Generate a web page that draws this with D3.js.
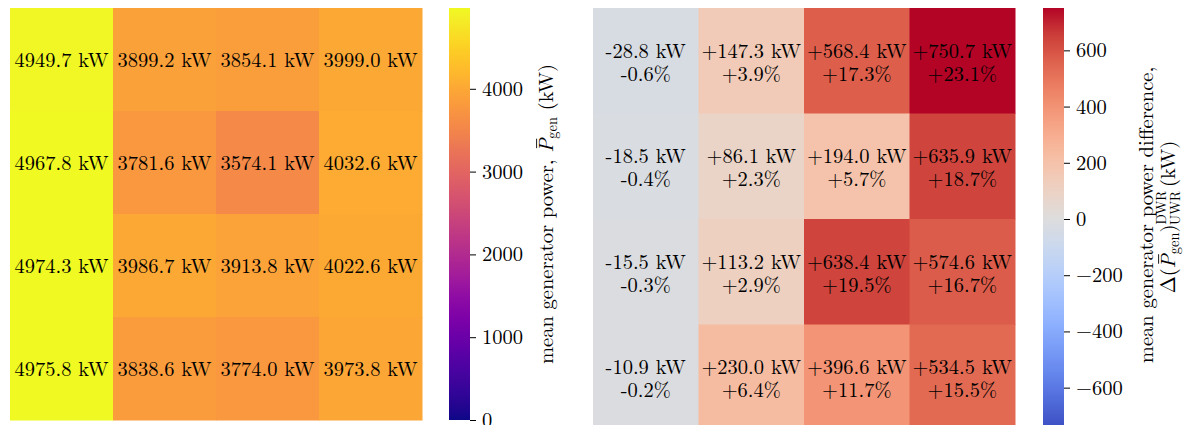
<!DOCTYPE html>
<html><head><meta charset="utf-8">
<script src="https://cdn.jsdelivr.net/npm/d3@7"></script>
<style>body{margin:0;background:#fff;}</style></head>
<body><svg id="c" width="1183" height="425"></svg>
<script>
const rows = [0,1,2,3];
const cols = [0,1,2,3];
const meanPower = [
  [4949.7, 3899.2, 3854.1, 3999.0],
  [4967.8, 3781.6, 3574.1, 4032.6],
  [4974.3, 3986.7, 3913.8, 4022.6],
  [4975.8, 3838.6, 3774.0, 3973.8]
];
const diffPower = [
  [-28.8, 147.3, 568.4, 750.7],
  [-18.5, 86.1, 194.0, 635.9],
  [-15.5, 113.2, 638.4, 574.6],
  [-10.9, 230.0, 396.6, 534.5]
];
const diffPct = [
  [-0.6, 3.9, 17.3, 23.1],
  [-0.4, 2.3, 5.7, 18.7],
  [-0.3, 2.9, 19.5, 16.7],
  [-0.2, 6.4, 11.7, 15.5]
];
const leftTicks = [0, 1000, 2000, 3000, 4000];
const rightTicks = [-600, -400, -200, 0, 200, 400, 600];

// matplotlib coolwarm control points (every 1/16)
const coolwarmStops = [
  [0.2298,0.2987,0.7537],[0.3039,0.4065,0.8450],[0.3830,0.5094,0.9174],[0.4667,0.6046,0.9682],
  [0.5530,0.6889,0.9954],[0.6392,0.7596,0.9982],[0.7222,0.8140,0.9766],[0.7987,0.8498,0.9317],
  [0.8654,0.8654,0.8654],[0.9241,0.8274,0.7745],[0.9589,0.7698,0.6780],[0.9700,0.6943,0.5794],
  [0.9580,0.6028,0.4818],[0.9239,0.4973,0.3880],[0.8692,0.3783,0.3003],[0.7956,0.2413,0.2205],
  [0.7057,0.0156,0.1502]
];
const coolwarm = (function(){
  const cs = coolwarmStops.map(c => d3.rgb(c[0]*255, c[1]*255, c[2]*255));
  return t => {
    t = Math.max(0, Math.min(1, t));
    const n = cs.length - 1, i = Math.min(n - 1, Math.floor(t * n)), f = t * n - i;
    return d3.interpolateRgb(cs[i], cs[i+1])(f);
  };
})();

const FONT = "'Latin Modern Roman', 'CMU Serif', 'Liberation Serif', serif";
const svg = d3.select("#c");
const FS = 20.5;
const SUB = 14.5;

// ---------- Left heatmap ----------
const lx = d3.scaleBand().domain(cols).range([10, 422]);
const ly = d3.scaleBand().domain(rows).range([8, 420]);
const lmax = d3.max(meanPower.flat());
const lcol = d3.scaleSequential(d3.interpolatePlasma).domain([0, lmax]);

const lcells = [];
rows.forEach(r => cols.forEach(c => lcells.push({r, c, v: meanPower[r][c]})));
const lg = svg.append("g");
lg.selectAll("rect").data(lcells).join("rect")
  .attr("x", d => lx(d.c)).attr("y", d => ly(d.r))
  .attr("width", lx.bandwidth() + 0.5).attr("height", ly.bandwidth() + 0.5)
  .attr("fill", d => lcol(d.v));
lg.selectAll("text").data(lcells).join("text")
  .attr("x", d => lx(d.c) + lx.bandwidth()/2)
  .attr("y", d => ly(d.r) + ly.bandwidth()/2 + 7)
  .attr("text-anchor", "middle")
  .style("font-family", FONT).style("font-size", FS + "px")
  .text(d => d.v.toFixed(1) + " kW");

// left colorbar
const lcbX = 449, lcbW = 21;
const lcy = d3.scaleLinear().domain([0, lmax]).range([420, 8]);
const defs = svg.append("defs");
function gradient(id, scale, domain) {
  const g = defs.append("linearGradient").attr("id", id)
    .attr("x1", 0).attr("y1", 1).attr("x2", 0).attr("y2", 0);
  d3.range(0, 1.0001, 0.02).forEach(t => {
    g.append("stop").attr("offset", t)
      .attr("stop-color", scale(domain[0] + t * (domain[1] - domain[0])));
  });
}
gradient("lgrad", lcol, [0, lmax]);
svg.append("rect").attr("x", lcbX).attr("y", 8).attr("width", lcbW).attr("height", 412)
  .attr("fill", "url(#lgrad)");
const laxis = svg.append("g").attr("transform", `translate(${lcbX + lcbW},0)`)
  .call(d3.axisRight(lcy).tickValues(leftTicks).tickSize(6).tickPadding(6).tickFormat(d3.format("d")));
laxis.select(".domain").remove();
laxis.selectAll("text").style("font-family", FONT).style("font-size", FS + "px").attr("fill", "#000");
laxis.selectAll("line").attr("stroke", "#000");

// bar over italic P, placed from the rendered glyph extent
function overbar(g, pNode) {
  const e = pNode.getExtentOfChar(0);
  g.append("line")
    .attr("x1", e.x + e.width * 0.32).attr("x2", e.x + e.width * 1.0)
    .attr("y1", -FS * 0.80).attr("y2", -FS * 0.80)
    .attr("stroke", "#000").attr("stroke-width", 0.9);
}

const llg = svg.append("g").attr("transform", "translate(553,214) rotate(-90)");
const ll = llg.append("text").attr("text-anchor", "middle")
  .style("font-family", FONT).style("font-size", FS + "px");
ll.append("tspan").text("mean generator power, ");
const lp = ll.append("tspan").attr("font-style", "italic").text("P");
ll.append("tspan").style("font-size", SUB + "px").attr("dy", 4).text("gen");
ll.append("tspan").attr("dy", -4).text(" (kW)");
overbar(llg, lp.node());

// ---------- Right heatmap ----------
const rx = d3.scaleBand().domain(cols).range([593, 1015]);
const ry = d3.scaleBand().domain(rows).range([8, 430]);
const rmax = d3.max(diffPower.flat(), Math.abs);
const rcol = d3.scaleSequential(coolwarm).domain([-rmax, rmax]);
const rcells = [];
rows.forEach(r => cols.forEach(c => rcells.push({r, c, v: diffPower[r][c], p: diffPct[r][c]})));
const rg = svg.append("g");
rg.selectAll("rect").data(rcells).join("rect")
  .attr("x", d => rx(d.c)).attr("y", d => ry(d.r))
  .attr("width", rx.bandwidth() + 0.5).attr("height", ry.bandwidth() + 0.5)
  .attr("fill", d => rcol(d.v));
const sgn = v => (v >= 0 ? "+" : "-") + Math.abs(v).toFixed(1);
rg.selectAll("text.kw").data(rcells).join("text").attr("class", "kw")
  .attr("text-anchor", "middle").style("font-family", FONT).style("font-size", FS + "px")
  .attr("x", d => rx(d.c) + rx.bandwidth()/2)
  .attr("y", d => ry(d.r) + ry.bandwidth()/2 - 3)
  .text(d => sgn(d.v) + " kW");
rg.selectAll("text.pc").data(rcells).join("text").attr("class", "pc")
  .attr("text-anchor", "middle").style("font-family", FONT).style("font-size", FS + "px")
  .attr("x", d => rx(d.c) + rx.bandwidth()/2)
  .attr("y", d => ry(d.r) + ry.bandwidth()/2 + 20)
  .text(d => sgn(d.p) + "%");

// right colorbar
const rcbX = 1043, rcbW = 21;
const rcy = d3.scaleLinear().domain([-rmax, rmax]).range([430, 8]);
gradient("rgrad", rcol, [-rmax, rmax]);
svg.append("rect").attr("x", rcbX).attr("y", 8).attr("width", rcbW).attr("height", 422)
  .attr("fill", "url(#rgrad)");
const raxis = svg.append("g").attr("transform", `translate(${rcbX + rcbW},0)`)
  .call(d3.axisRight(rcy).tickValues(rightTicks).tickSize(6).tickPadding(6));
raxis.select(".domain").remove();
raxis.selectAll("text").style("font-family", FONT).style("font-size", FS + "px").attr("fill", "#000");
raxis.selectAll("line").attr("stroke", "#000");

svg.append("text").attr("transform", "translate(1153,215) rotate(-90)")
  .attr("text-anchor", "middle").style("font-family", FONT).style("font-size", FS + "px")
  .text("mean generator power difference,");
const rlg = svg.append("g").attr("transform", "translate(1175,217) rotate(-90)");
const rl2 = rlg.append("text").attr("text-anchor", "middle")
  .style("font-family", FONT).style("font-size", FS + "px");
rl2.append("tspan").text("\u0394(");
const rp = rl2.append("tspan").attr("font-style", "italic").text("P");
rl2.append("tspan").style("font-size", SUB + "px").attr("dy", 4).text("gen");
rl2.append("tspan").attr("dy", -4).text(")");
const sup = rl2.append("tspan").style("font-size", "13.5px").attr("dy", -9).text("DWR");
const supW = sup.node().getComputedTextLength();
rl2.append("tspan").style("font-size", "13.5px").attr("dx", -supW).attr("dy", 14).text("UWR");
rl2.append("tspan").attr("dx", 4).attr("dy", -5).text("(kW)");
overbar(rlg, rp.node());
</script></body></html>
